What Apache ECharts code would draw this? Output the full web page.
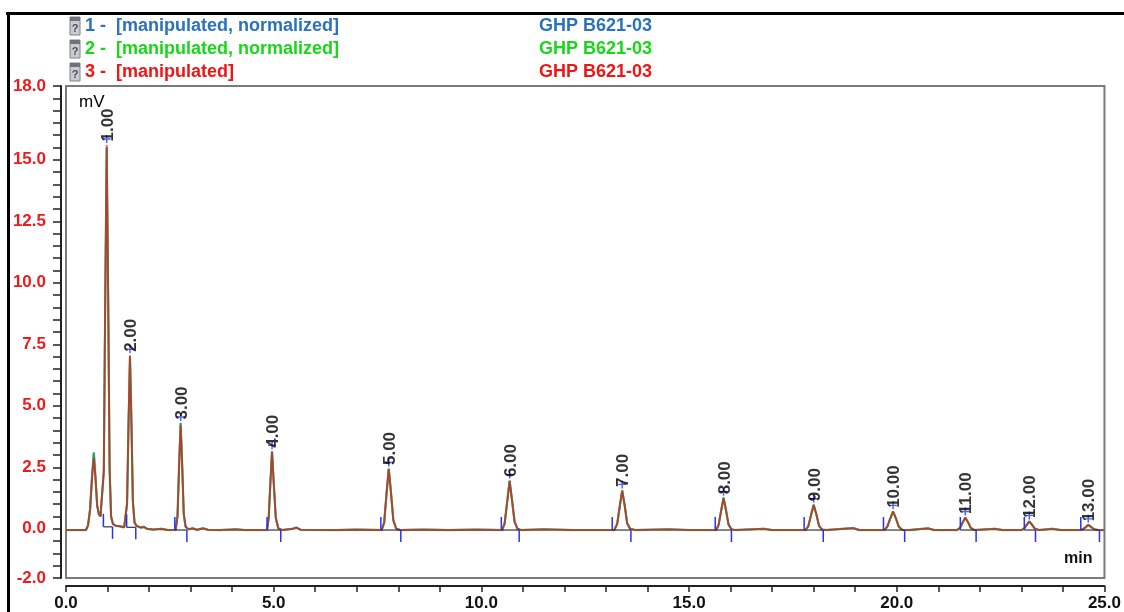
<!DOCTYPE html>
<html>
<head>
<meta charset="utf-8">
<script src="https://cdn.jsdelivr.net/npm/echarts@6/dist/echarts.min.js"></script>
<style>
html,body{margin:0;padding:0;background:#fff;}
#chart{width:1124px;height:612px;}
</style>
</head>
<body>
<div id="chart"></div>
<script>
// ---------- DATA ----------
const traceTime = [0.00,0.30,0.48,0.53,0.58,0.625,0.67,0.71,0.75,0.79,0.83,0.875,0.91,0.945,0.98,1.015,1.05,1.085,1.13,1.20,1.30,1.40,1.435,1.47,1.505,1.54,1.575,1.61,1.65,1.70,1.80,1.88,1.95,2.10,2.30,2.45,2.64,2.685,2.725,2.76,2.795,2.835,2.88,2.95,3.05,3.15,3.30,3.42,3.70,4.10,4.30,4.84,4.88,4.92,4.96,5.00,5.05,5.11,5.20,5.45,5.55,5.65,6.50,7.00,7.60,7.66,7.715,7.77,7.825,7.88,7.95,8.05,8.60,9.20,9.90,10.50,10.56,10.625,10.68,10.735,10.80,10.87,10.95,11.50,12.20,13.20,13.27,13.33,13.39,13.45,13.51,13.58,13.70,14.50,15.00,15.65,15.71,15.77,15.83,15.89,15.95,16.02,16.10,16.80,17.00,17.80,17.87,17.935,18.00,18.065,18.13,18.20,18.30,18.95,19.10,19.70,19.77,19.84,19.91,19.98,20.05,20.13,20.30,20.75,20.90,21.45,21.52,21.585,21.65,21.715,21.78,21.87,22.36,22.55,23.00,23.06,23.125,23.19,23.255,23.32,23.42,23.75,23.95,24.42,24.48,24.545,24.61,24.675,24.75,24.85,25.00];
const traceNormalized = [-0.05,-0.05,-0.05,0.15,0.80,2.10,3.10,2.10,0.95,0.60,0.50,0.42,2.30,9.40,15.50,9.40,2.40,0.50,0.20,0.12,0.10,0.06,0.08,1.00,4.20,7.00,4.30,1.10,0.25,0.12,0.05,0.08,0.00,-0.03,0.00,-0.05,-0.04,0.55,2.70,4.30,2.70,0.60,0.08,-0.02,0.02,-0.04,0.02,-0.04,-0.05,-0.02,-0.05,-0.05,0.45,1.85,3.15,1.90,0.45,0.02,-0.05,0.00,0.05,-0.04,-0.05,-0.03,-0.05,0.25,1.40,2.45,1.45,0.35,0.00,-0.05,-0.03,-0.05,-0.03,-0.05,0.22,1.15,1.96,1.20,0.28,0.00,-0.05,-0.02,-0.05,-0.05,0.20,0.90,1.56,0.95,0.22,0.00,-0.05,-0.02,-0.05,-0.05,0.15,0.72,1.26,0.75,0.17,-0.02,-0.05,0.00,-0.05,-0.05,0.10,0.55,0.98,0.58,0.12,-0.03,-0.05,0.03,-0.05,-0.05,0.08,0.40,0.71,0.42,0.08,-0.04,-0.05,0.02,-0.05,-0.05,0.03,0.25,0.46,0.27,0.04,-0.05,0.00,-0.05,-0.05,0.00,0.15,0.30,0.17,0.01,-0.05,0.00,-0.05,-0.05,-0.02,0.06,0.16,0.08,-0.02,-0.05,-0.05];
const traceManipulated = [-0.05,-0.05,-0.05,0.12,0.75,2.00,2.90,2.05,0.95,0.60,0.50,0.42,2.40,9.50,15.60,9.50,2.50,0.50,0.20,0.12,0.10,0.06,0.08,1.05,4.30,7.05,4.40,1.15,0.25,0.12,0.05,0.07,0.00,-0.03,-0.01,-0.05,-0.04,0.50,2.65,4.20,2.65,0.60,0.08,-0.02,0.01,-0.04,0.01,-0.04,-0.05,-0.03,-0.05,-0.05,0.45,1.85,3.13,1.90,0.45,0.02,-0.05,-0.01,0.04,-0.04,-0.05,-0.04,-0.05,0.25,1.40,2.42,1.45,0.35,0.00,-0.05,-0.04,-0.05,-0.04,-0.05,0.22,1.15,1.94,1.20,0.28,0.00,-0.05,-0.03,-0.05,-0.05,0.20,0.90,1.54,0.95,0.22,0.00,-0.05,-0.03,-0.05,-0.05,0.15,0.72,1.24,0.75,0.17,-0.02,-0.05,-0.01,-0.05,-0.05,0.10,0.55,0.97,0.58,0.12,-0.03,-0.05,0.02,-0.05,-0.05,0.08,0.40,0.70,0.42,0.08,-0.04,-0.05,0.01,-0.05,-0.05,0.03,0.25,0.45,0.27,0.04,-0.05,-0.01,-0.05,-0.05,0.00,0.15,0.29,0.17,0.01,-0.05,-0.01,-0.05,-0.05,-0.02,0.06,0.15,0.08,-0.02,-0.05,-0.05];

const peakTimes   = [0.98,1.54,2.76,4.96,7.77,10.68,13.39,15.83,18.00,19.91,21.65,23.19,24.61];
const peakHeights = [15.6,7.05,4.30,3.15,2.45,1.96,1.56,1.26,0.98,0.71,0.46,0.30,0.16];
const peakLabels  = ['1.00','2.00','3.00','4.00','5.00','6.00','7.00','8.00','9.00','10.00','11.00','12.00','13.00'];

const markStart = [0.90,1.46,2.62,4.84,7.58,10.48,13.15,15.63,17.77,19.68,21.53,23.07,24.43];
const markEnd   = [1.12,1.68,2.91,5.17,8.06,10.91,13.60,16.02,18.23,20.19,21.91,23.34,24.88];
const markLevel = [0.08,0.06,-0.05,-0.05,-0.05,-0.05,-0.05,-0.05,-0.05,-0.05,-0.05,-0.05,-0.05];

const yTickLabels = [18.0,15.0,12.5,10.0,7.5,5.0,2.5,0.0,-2.0];
const xTickLabels = [0,5,10,15,20,25];

const legendNames = ['1 -  [manipulated, normalized]','2 -  [manipulated, normalized]','3 -  [manipulated]'];
const legendSample = ['GHP B621-03','GHP B621-03','GHP B621-03'];
const seriesColors = ['#2a72bd','#17d817','#f01414'];

// ---------- BUILD ----------
const pairs = (vals) => traceTime.map((t,i)=>[t, vals[i]]);
const peakData = peakTimes.map((t,i)=>({value:[t, peakHeights[i]], name: peakLabels[i]}));
const markData = markStart.map((s,i)=>[s, markEnd[i], markLevel[i]]);

const chart = echarts.init(document.getElementById('chart'), null, {renderer:'canvas'});

const graphics = [
  {type:'line', shape:{x1:6,y1:13.5,x2:1124,y2:13.5}, style:{stroke:'#000',lineWidth:3}, silent:true},
  {type:'line', shape:{x1:8.5,y1:12,x2:8.5,y2:612}, style:{stroke:'#000',lineWidth:3}, silent:true},
  {type:'text', left:79, top:94, style:{text:'mV', font:'17px "Liberation Sans", Arial, sans-serif', fill:'#000'}},
  {type:'text', left:1064, top:551, style:{text:'min', font:'bold 16px "Liberation Sans", Arial, sans-serif', fill:'#111'}}
];
legendNames.forEach((nm,i)=>{
  const cy = 26 + i*23;
  graphics.push({type:'rect', shape:{x:70,y:cy-9,width:10,height:18}, style:{fill:'#c9cdd2', stroke:'#7d8289', lineWidth:1}, silent:true});
  graphics.push({type:'rect', shape:{x:70,y:cy-9,width:10,height:4}, style:{fill:'#6e7379'}, silent:true});
  graphics.push({type:'text', x:75, y:cy+3, style:{text:'?', font:'bold 11px "Liberation Sans", Arial, sans-serif', fill:'#4a4f55', align:'center', verticalAlign:'middle'}, silent:true});
  graphics.push({type:'text', x:85, y:cy, style:{text:nm, font:'bold 18px "Liberation Sans", Arial, sans-serif', fill:seriesColors[i], verticalAlign:'middle'}});
  graphics.push({type:'text', x:539, y:cy, style:{text:legendSample[i], font:'bold 18px "Liberation Sans", Arial, sans-serif', fill:seriesColors[i], verticalAlign:'middle'}});
});

const option = {
  animation:false,
  backgroundColor:'#fff',
  grid:{left:66, right:17, top:86, bottom:33, show:true, borderColor:'#7a7a7a', borderWidth:2, backgroundColor:'transparent'},
  xAxis:{
    type:'value', min:0, max:25, interval:1, offset:8,
    axisLine:{show:true, onZero:false, lineStyle:{color:'#222', width:2}},
    axisTick:{show:true, length:6, lineStyle:{color:'#222', width:1.5}},
    splitLine:{show:false},
    axisLabel:{margin:9, color:'#111', fontSize:17, fontWeight:'bold', fontFamily:'"Liberation Sans", Arial, sans-serif',
      formatter:(v)=> xTickLabels.some(t=>Math.abs(t-v)<1e-6) ? v.toFixed(1) : ''}
  },
  yAxis:{
    type:'value', min:-2, max:18, interval:0.5, offset:5,
    axisLine:{show:true, onZero:false, lineStyle:{color:'#222', width:2}},
    axisTick:{show:true, length:8, lineStyle:{color:'#222', width:1.5}},
    splitLine:{show:false},
    axisLabel:{margin:15, color:'#f01a1a', fontSize:17, fontWeight:'bold', fontFamily:'"Liberation Sans", Arial, sans-serif',
      formatter:(v)=> yTickLabels.some(t=>Math.abs(t-v)<1e-6) ? v.toFixed(1) : ''}
  },
  graphic: graphics,
  series:[
    {name:'1', type:'line', data:pairs(traceNormalized), showSymbol:false, symbol:'none', lineStyle:{color:seriesColors[0], width:2}, z:2, silent:true},
    {name:'2', type:'line', data:pairs(traceNormalized), showSymbol:false, symbol:'none', lineStyle:{color:seriesColors[1], width:2.2, opacity:0.55}, z:3, silent:true},
    {name:'3', type:'line', data:pairs(traceManipulated), showSymbol:false, symbol:'none', lineStyle:{color:seriesColors[2], width:1.8, opacity:0.7}, z:4, silent:true},
    {
      type:'custom', z:5, silent:true, data:markData,
      renderItem:(params, api)=>{
        const p1 = api.coord([api.value(0), api.value(2)]);
        const p2 = api.coord([api.value(1), api.value(2)]);
        return {type:'group', children:[
          {type:'line', shape:{x1:p1[0],y1:p1[1],x2:p2[0],y2:p2[1]}, style:{stroke:'#333',lineWidth:1.2}},
          {type:'line', shape:{x1:p1[0],y1:p1[1],x2:p1[0],y2:p1[1]-13}, style:{stroke:'#2233ff',lineWidth:1.5}},
          {type:'line', shape:{x1:p2[0],y1:p2[1],x2:p2[0],y2:p2[1]+12}, style:{stroke:'#2233ff',lineWidth:1.5}}
        ]};
      }
    },
    {
      type:'scatter', z:6, silent:true, data:peakData,
      symbol:'path://M4,0 L4,8 M0,4 L8,4', symbolSize:8, symbolOffset:[0,-6],
      itemStyle:{color:'none', borderColor:'#2233ff', borderWidth:1.4},
      label:{show:true, formatter:(p)=>p.name, rotate:90, position:[8,9], align:'left', verticalAlign:'middle',
        color:'#000', fontSize:17, fontWeight:'bold', fontFamily:'"Liberation Sans", Arial, sans-serif'}
    }
  ]
};
chart.setOption(option);
</script>
</body>
</html>
